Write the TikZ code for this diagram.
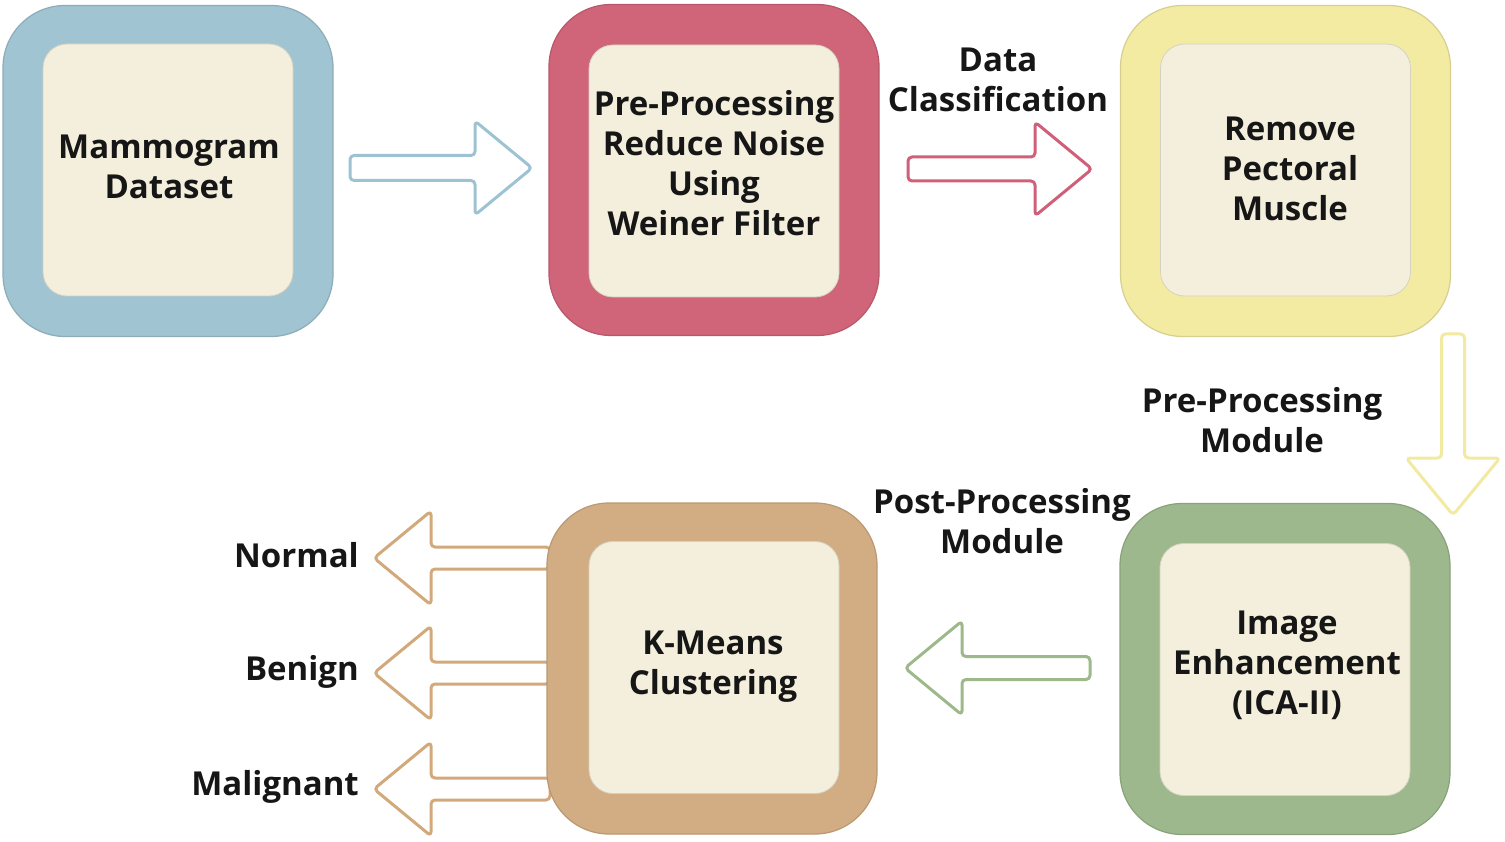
\documentclass[tikz,border=0pt]{standalone}
\usepackage{fontspec}
\setmainfont{Open Sans}
\usetikzlibrary{calc}
\definecolor{cblue}{HTML}{A0C4D2}
\definecolor{cred}{HTML}{D06478}
\definecolor{cyellow}{HTML}{F3EBA2}
\definecolor{cgreen}{HTML}{9DB88C}
\definecolor{ctan}{HTML}{D2AD83}
\definecolor{cream}{HTML}{F3EFDC}
\definecolor{txt}{HTML}{161616}
\definecolor{ablue}{HTML}{9DC3D3}
\definecolor{ared}{HTML}{D0607A}
\definecolor{ayellow}{HTML}{F2EAA0}
\definecolor{agreen}{HTML}{9DB98A}
\definecolor{atan}{HTML}{D2A97A}
\tikzset{
  outerbox/.style={rounded corners=62pt, minimum width=330pt, minimum height=331pt,
    inner sep=0pt, fill=#1, draw=#1!88!black, line width=1.2pt},
  innerbox/.style={rounded corners=24pt, minimum width=250pt, minimum height=252pt,
    inner sep=0pt, fill=cream, draw=cream!88!black, line width=0.8pt},
  lbl/.style={font=\bfseries\fontsize{33}{40}\selectfont, align=center, text=txt, inner sep=0pt},
  arrowline/.style={draw=#1, line width=3pt, fill=white, rounded corners=4pt, line join=round}
}
\newcommand\blkarrow[5]{%
  \begin{scope}[shift={(#1)}, rotate=#2]
    \draw[arrowline=#5] (0,-#4) -- (#3,-#4) -- (#3,-47) -- (#3+57,0) -- (#3,47) -- (#3,#4) -- (0,#4) -- cycle;
  \end{scope}}
\begin{document}
\begin{tikzpicture}[x=1pt,y=-1pt]
\useasboundingbox (0,0) rectangle (1505,842);
% arrow anchor coordinates
\coordinate (a1) at (350,168);
\coordinate (a2) at (908,169);
\coordinate (a3) at (1453,334);
\coordinate (a4) at (1090,668);
\coordinate (t1) at (550,558);
\coordinate (t2) at (550,673);
\coordinate (t3) at (550,789);
% tan arrows (behind box 5)
\blkarrow{t1}{180}{119}{11}{atan}
\blkarrow{t2}{180}{119}{11}{atan}
\blkarrow{t3}{180}{119}{11}{atan}
% boxes
\node[outerbox=cblue] (o1) at (168,171) {};
\node[innerbox] (b1) at (168,170) {};
\node[lbl] (x1) at (169,166.5) {Mammogram\\Dataset};
\node[outerbox=cred] (o2) at (714,170) {};
\node[innerbox] (b2) at (714,171) {};
\node[lbl] (x2) at (714,163) {Pre-Processing\\Reduce Noise\\Using\\Weiner Filter};
\node[outerbox=cyellow] (o3) at (1285.5,171) {};
\node[innerbox] (b3) at (1285.5,170) {};
\node[lbl] (x3) at (1290,168.5) {Remove\\Pectoral\\Muscle};
\node[outerbox=cgreen] (o4) at (1285,669) {};
\node[innerbox] (b4) at (1285,669.5) {};
\node[lbl] (x4) at (1287,665) {Image\\Enhancement\\(ICA-II)};
\node[outerbox=ctan] (o5) at (712,668.5) {};
\node[innerbox] (b5) at (714,667.5) {};
\node[lbl] (x5) at (713,667) {K-Means\\Clustering};
% block arrows
\blkarrow{a1}{0}{125}{12.5}{ablue}
\blkarrow{a2}{0}{127}{12}{ared}
\blkarrow{a3}{-90}{124}{11.5}{ayellow}
\blkarrow{a4}{180}{128}{11.5}{agreen}
% labels
\node[lbl] (dc) at (998,80) {Data\\Classification};
\node[lbl] (prem) at (1262,420) {Pre-Processing\\Module};
\node[lbl] (postm) at (1002,521) {Post-Processing\\Module};
\node[lbl, anchor=east] (n1) at (359,555) {Normal};
\node[lbl, anchor=east] (n2) at (359,672) {Benign};
\node[lbl, anchor=east] (n3) at (359,787) {Malignant};
\end{tikzpicture}
\end{document}
